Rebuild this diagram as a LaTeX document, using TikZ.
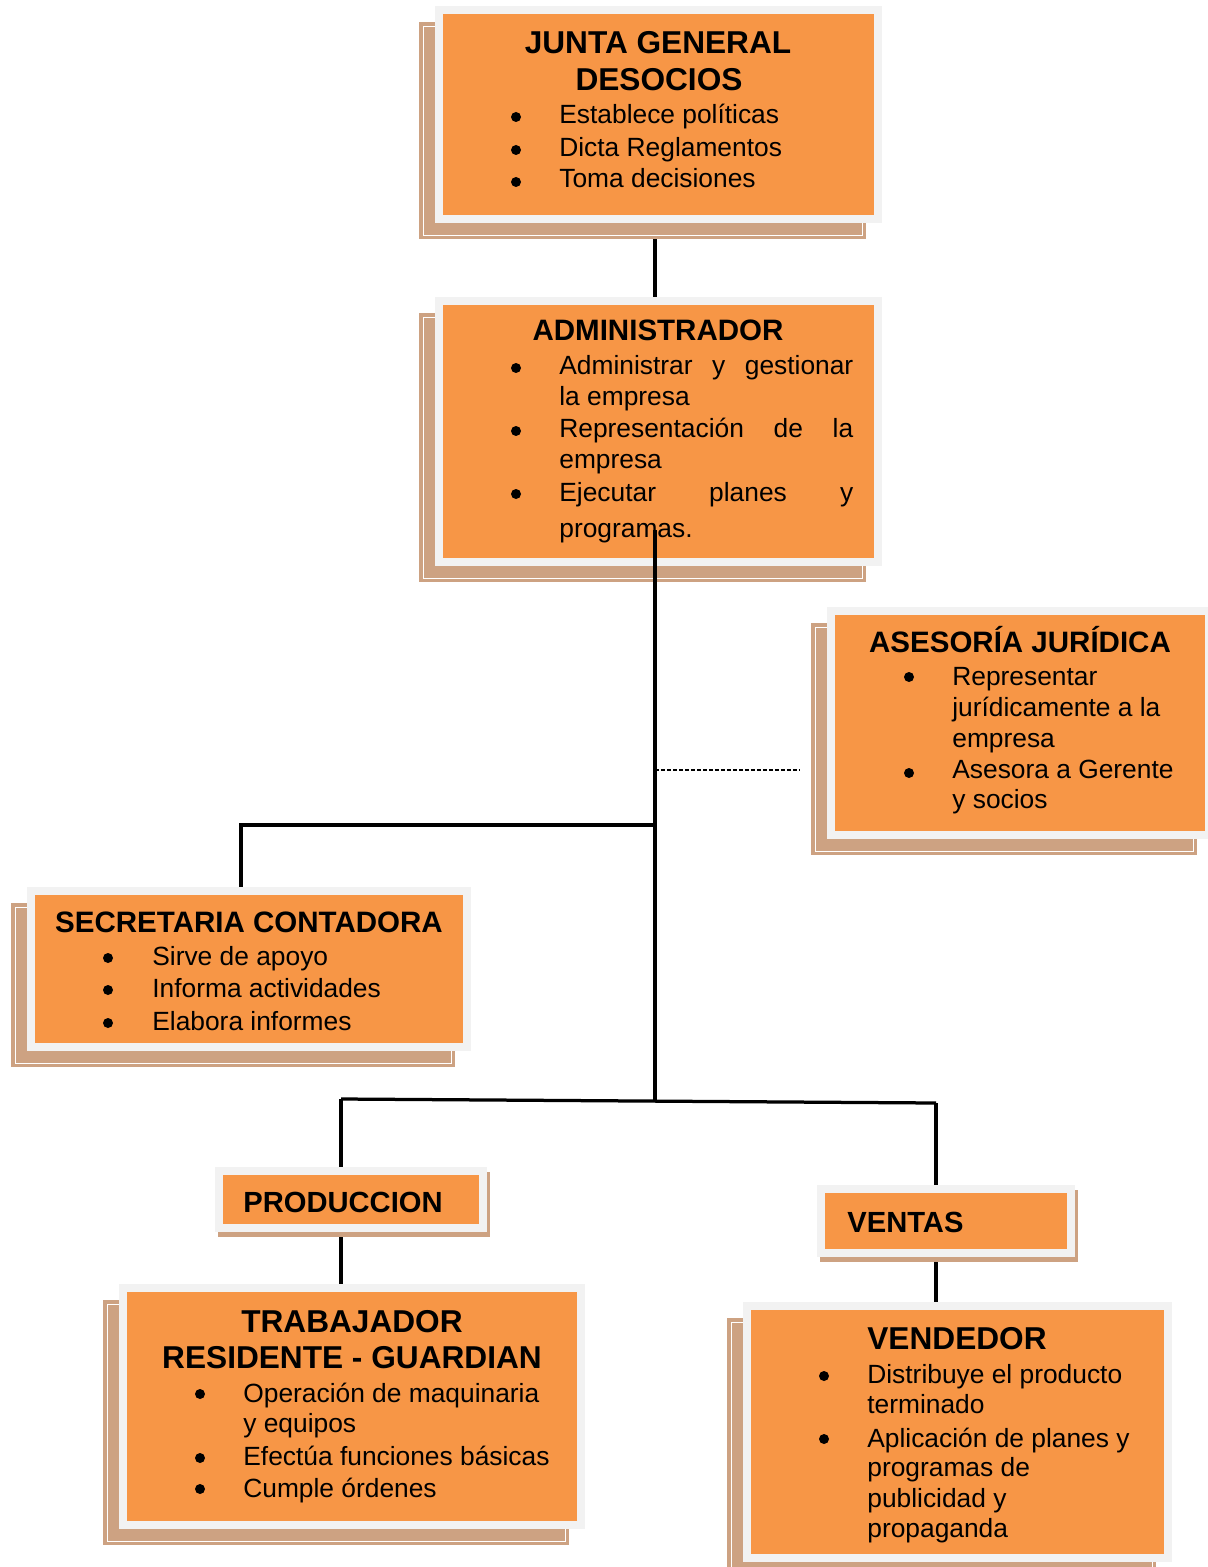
\documentclass[tikz,border=0pt]{standalone}
\usepackage{fontspec}
\setmainfont{Liberation Sans}
\usetikzlibrary{fit}
\definecolor{orangec}{RGB}{247,150,70}
\definecolor{grayb}{RGB}{242,242,242}
\definecolor{tanc}{RGB}{205,162,130}
\pgfdeclarelayer{paper}\pgfdeclarelayer{back}\pgfsetlayers{paper,back,main}
\tikzset{
  boxn/.style={fill=orangec, draw=grayb, line width=0.16cm, inner sep=0pt},
  conn/.style={draw=black, line width=0.065cm},
  dline/.style={draw=black, line width=0.025cm, dash pattern=on 0.08cm off 0.04cm},
  tx/.style={anchor=base west, inner sep=0pt, font=\fontsize{15}{18}\selectfont},
  ttl/.style={anchor=base, inner sep=0pt, font=\fontsize{18}{21}\selectfont\bfseries},
  ttm/.style={anchor=base, inner sep=0pt, font=\fontsize{16.8}{19}\selectfont\bfseries},
  ttw/.style={anchor=base west, inner sep=0pt, font=\fontsize{16.6}{19}\selectfont\bfseries},
}
\newcommand\orgbig[5]{%
  \fill[tanc] (#2-16,#3+16) rectangle (#4-16,#5+16);
  \draw[white,line width=0.5pt] (#2-12,#3+20) rectangle (#4-20,#5+12);
  \node[boxn, fit={(#2+4,#3+4) (#4-4,#5-4)}] (#1) {};}
\newcommand\orgsmall[5]{%
  \fill[tanc] (#2+3,#3+5) rectangle (#4+3,#5+5);
  \node[boxn, fit={(#2+4,#3+4) (#4-4,#5-4)}] (#1) {};}
\newcommand\bul[2]{\fill (#1,#2) circle[radius=0.1cm];}
\begin{document}
\begin{tikzpicture}[x=0.02cm, y=-0.02cm]
\begin{pgfonlayer}{paper}
\fill[white] (0,0) rectangle (1207,1567);
\end{pgfonlayer}
\useasboundingbox (0,0) rectangle (1207,1567);

% boxes
\orgbig{junta}{435}{6}{882}{223}
\orgbig{admin}{435}{297}{882}{566}
\orgbig{ases}{827}{607}{1213}{839}
\orgbig{secr}{27}{887}{471}{1051}
\orgsmall{prod}{215}{1167}{487}{1232}
\orgsmall{vent}{817}{1185}{1075}{1257}
\orgbig{trab}{119}{1284}{585}{1529}
\orgbig{vend}{743}{1302}{1172}{1562}

% junction coordinates
\coordinate (tt) at (655,530);
\coordinate (tb) at (655,1101);
\coordinate (jA) at (655,770);
\coordinate (jS) at (655,825);
\coordinate (sL) at (241,825);
\coordinate (pL) at (341,1099);
\coordinate (pR) at (936,1103);

\begin{pgfonlayer}{back}
\draw[conn] (junta.south -| tt) -- (admin.north -| tt);
\draw[dline, shorten >=0.54cm] (jA) -- (jA -| ases.west);
\draw[conn] (jS) -- (sL) -- (sL |- secr.north);
\draw[conn] (pL) -- (pR);
\draw[conn] (pL) -- (pL |- prod.north);
\draw[conn] (pR) -- (pR |- vent.north);
\draw[conn] (pL |- prod.south) -- (pL |- trab.north);
\draw[conn] (pR |- vent.south) -- (pR |- vend.north);
\end{pgfonlayer}

% JUNTA
\node[ttl] (j0) at (658,54) {JUNTA GENERAL};
\node[ttl] (j1) at (659,91) {DESOCIOS};
\bul{516}{117}\bul{516}{150}\bul{516}{182}
\node[tx] (j2) at (559,124) {Establece políticas};
\node[tx] (j3) at (559,157) {Dicta Reglamentos};
\node[tx] (j4) at (559,188) {Toma decisiones};

% ADMIN
\node[ttm] (a0) at (658,341) {ADMINISTRADOR};
\bul{516}{368}\bul{516}{431}\bul{516}{494}
\node[tx] (a1) at (559,375) {\makebox[5.88cm][s]{Administrar y gestionar}};
\node[tx] (a2) at (559,405) {la empresa};
\node[tx] (a3) at (559,438) {\makebox[5.88cm][s]{Representación de la}};
\node[tx] (a4) at (559,468) {empresa};
\node[tx] (a5) at (559,501) {\makebox[5.88cm][s]{Ejecutar planes y}};
\node[tx] (a6) at (559,537) {programas.};

% ASESORIA
\node[ttm] (s0) at (1020,652) {ASESORÍA JURÍDICA};
\bul{909}{677}\bul{909}{773}
\node[tx] (s1) at (952,685) {Representar};
\node[tx] (s2) at (952,716) {jurídicamente a la};
\node[tx] (s3) at (952,747) {empresa};
\node[tx] (s4) at (952,778) {Asesora a Gerente};
\node[tx] (s5) at (952,808) {y socios};

% SECRETARIA
\node[ttm] (c0) at (249,932) {SECRETARIA CONTADORA};
\bul{108}{958}\bul{108}{990}\bul{108}{1023}
\node[tx] (c1) at (152,965) {Sirve de apoyo};
\node[tx] (c2) at (152,997) {Informa actividades};
\node[tx] (c3) at (152,1030) {Elabora informes};

% PRODUCCION / VENTAS
\node[ttw] (p0) at (243,1212) {PRODUCCION};
\node[ttw] (v0) at (847,1232) {VENTAS};

% TRABAJADOR
\node[ttl] (t0) at (352,1332) {TRABAJADOR};
\node[ttl] (t1) at (352,1368) {RESIDENTE - GUARDIAN};
\bul{200}{1394}\bul{200}{1458}\bul{200}{1489}
\node[tx] (t2) at (243,1402) {Operación de maquinaria};
\node[tx] (t3) at (243,1432) {y equipos};
\node[tx] (t4) at (243,1465) {Efectúa funciones básicas};
\node[tx] (t5) at (243,1497) {Cumple órdenes};

% VENDEDOR
\node[ttl] (d0) at (957,1349) {VENDEDOR};
\bul{824}{1376}\bul{824}{1439}
\node[tx] (d1) at (867,1383) {Distribuye el producto};
\node[tx] (d2) at (867,1413) {terminado};
\node[tx] (d3) at (867,1447) {Aplicación de planes y};
\node[tx] (d4) at (867,1476) {programas de};
\node[tx] (d5) at (867,1507) {publicidad y};
\node[tx] (d6) at (867,1537) {propaganda};

% trunk over the administrator box
\draw[conn] (tt) -- (tb);
\end{tikzpicture}
\end{document}
